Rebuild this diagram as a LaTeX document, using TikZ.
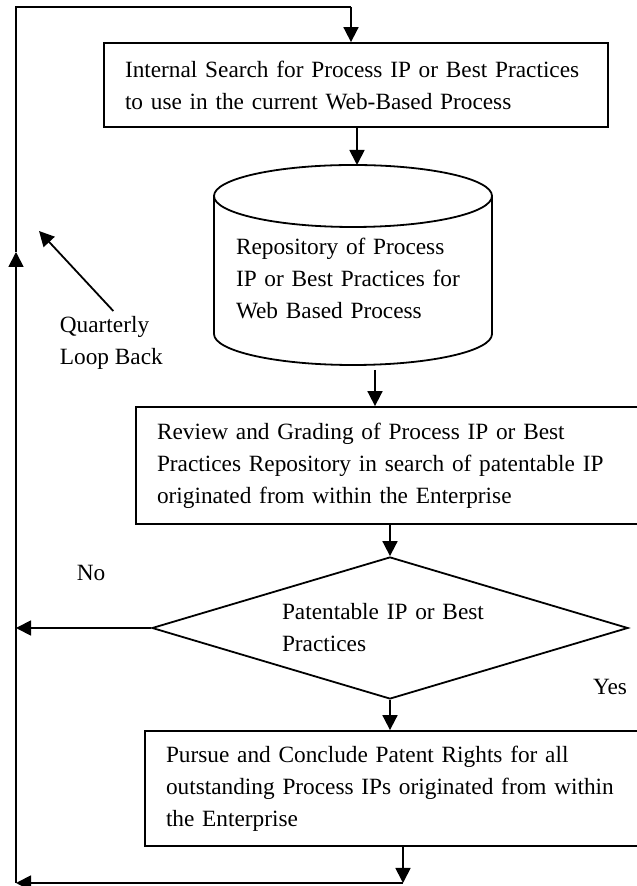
\documentclass[tikz,border=0pt]{standalone}
\usepackage{fontspec}
\setmainfont{Liberation Serif}
\usetikzlibrary{positioning,shapes.geometric,arrows.meta}

\begin{document}
\begin{tikzpicture}[
  x=1pt, y=1pt,
  line width=1.8pt,
  font=\fontsize{23.3}{32}\selectfont,
  flow/.style={-{Triangle[length=15pt,width=15pt]}},
  box/.style={draw, rectangle, align=left, inner xsep=21pt, inner ysep=0pt},
  decision/.style={draw, diamond, aspect=3.35, inner sep=0pt, align=left},
  label/.style={inner sep=0pt, align=left}
]
  \useasboundingbox (0,0) rectangle (637,886);

  \node[box, text width=462pt, minimum height=84pt] (search) at (356,801)
    {Internal Search for Process IP or Best Practices\\to use in the current Web-Based Process};

  \node[label, text width=234pt] (repo) at (353,608)
    {Repository of Process\\IP or Best Practices for\\Web Based Process};
  \draw (214,690) -- (214,552) arc[start angle=180, end angle=360, x radius=139pt, y radius=31pt] -- (492,690);
  \draw (353,690) ellipse[x radius=139pt, y radius=31pt];
  \coordinate (repotop) at (357,721);
  \coordinate (repobottom) at (375,516);

  \node[box, text width=482pt, minimum height=117pt] (review) at (398,420.5)
    {Review and Grading of Process IP or Best\\Practices Repository in search of patentable IP\\originated from within the Enterprise};

  \node[decision, text width=216pt, minimum width=476pt, minimum height=142pt] (check) at (390,258)
    {Patentable IP or Best\\Practices};

  \node[box, text width=473pt, minimum height=115pt] (pursue) at (402.5,97.5)
    {Pursue and Conclude Patent Rights for all\\outstanding Process IPs originated from within\\the Enterprise};

  \node[label] (no) at (91,313) {No};
  \node[label] (yes) at (610,199) {Yes};
  \node[label, anchor=west] (quarterly) at (59,543.5) {Quarterly\\Loop Back};

  \coordinate (corner) at (16,3);
  \coordinate (backup) at (16,634);
  \coordinate (topleft) at (16,879);
  \coordinate (topright) at (351,879);
  \coordinate (exit) at (403,3);
  \coordinate (looptip) at (39,655);

  \draw[flow] (topright) -- (topright |- search.north);
  \draw[flow] (repotop |- search.south) -- (repotop);
  \draw[flow] (repobottom) -- (repobottom |- review.north);
  \draw[flow] (check.north |- review.south) -- (check.north);
  \draw[flow] (check.south) -- (check.south |- pursue.north);
  \draw[flow] (exit |- pursue.south) -- (exit);
  \draw[flow] (exit) -- (corner);
  \draw[flow] (check.west) -- (check.west -| corner);
  \draw[flow] (corner) -- (backup);
  \draw (backup) -- (topleft) -- (topright);
  \draw[flow] ([shift={(2pt,4pt)}]quarterly.north) -- (looptip);
\end{tikzpicture}
\end{document}
